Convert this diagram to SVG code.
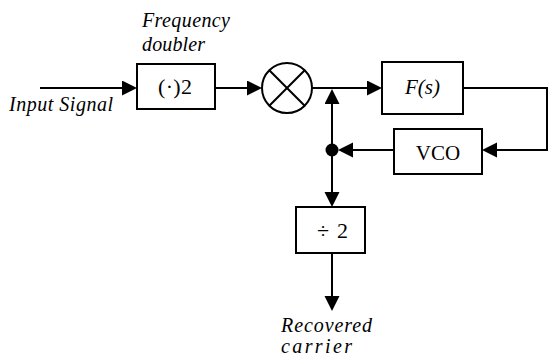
<svg xmlns="http://www.w3.org/2000/svg" width="549" height="358" viewBox="0 0 549 358">
<defs>
<style>
.box{fill:#fff;stroke:#000;stroke-width:2}
.ln{fill:none;stroke:#000;stroke-width:2}
.ar{fill:none;stroke:#000;stroke-width:2;marker-end:url(#ah)}
</style>
<marker id="ah" markerUnits="userSpaceOnUse" markerWidth="16" markerHeight="16" refX="13" refY="7.5" orient="auto">
<path d="M0,0 L15,7.5 L0,15 Z" fill="#000"/>
</marker>
</defs>
<rect width="549" height="358" fill="#fff"/>
<g id="connectors">
<line class="ar" x1="40" y1="88" x2="135" y2="88"/>
<line class="ar" x1="215" y1="88" x2="260" y2="88"/>
<line class="ar" x1="312" y1="88" x2="380" y2="88"/>
<path class="ar" d="M463,88 H547 V150 H484"/>
<line class="ar" x1="394" y1="150" x2="340" y2="150"/>
<line class="ar" x1="332" y1="150" x2="332" y2="91"/>
<line class="ar" x1="332" y1="150" x2="332" y2="205"/>
<line class="ar" x1="332" y1="253" x2="332" y2="309"/>
<circle cx="332" cy="150" r="6.5" fill="#000"/>
</g>
<g font-family="Liberation Serif, DejaVu Serif, serif" font-size="20" fill="#000">
<g id="input-label">
<text font-style="italic" x="9" y="111" textLength="104" lengthAdjust="spacing">Input Signal</text>
</g>
<g id="doubler-label">
<text font-style="italic" x="142" y="27" textLength="88" lengthAdjust="spacing">Frequency</text>
<text font-style="italic" x="142" y="51" textLength="63" lengthAdjust="spacing">doubler</text>
</g>
<g id="doubler">
<rect class="box" x="137" y="64" width="78" height="45"/>
<text x="158" y="94" font-size="22" textLength="34" lengthAdjust="spacing">(·)2</text>
</g>
<g id="mixer">
<circle class="box" cx="287" cy="88" r="25"/>
<line class="ln" x1="269.3" y1="70.3" x2="304.7" y2="105.7"/>
<line class="ln" x1="304.7" y1="70.3" x2="269.3" y2="105.7"/>
</g>
<g id="filter">
<rect class="box" x="382" y="62" width="81" height="52"/>
<text font-style="italic" x="422.5" y="94" text-anchor="middle" font-size="21">F(s)</text>
</g>
<g id="vco">
<rect class="box" x="394" y="129" width="88" height="45"/>
<text x="438" y="160" text-anchor="middle" font-size="21">VCO</text>
</g>
<g id="divider">
<rect class="box" x="296" y="207" width="69" height="46"/>
<text x="317" y="238" font-size="22" textLength="31" lengthAdjust="spacing">÷ 2</text>
</g>
<g id="output-label">
<text font-style="italic" x="281" y="332" textLength="91" lengthAdjust="spacing">Recovered</text>
<text font-style="italic" x="281" y="353" textLength="71" lengthAdjust="spacing">carrier</text>
</g>
</g>
</svg>
